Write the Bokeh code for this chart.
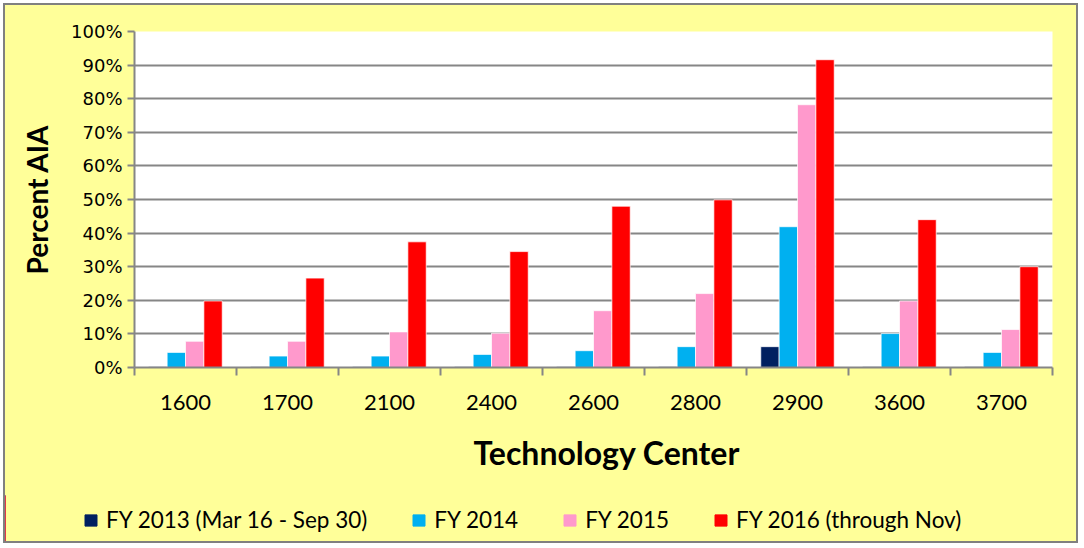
from bokeh.plotting import figure
from bokeh.layouts import column
from bokeh.models import ColumnDataSource, FixedTicker, NumeralTickFormatter, Range1d, Legend, LegendItem, Title
from bokeh.embed import file_html
from bokeh.resources import INLINE

centers = ["1600", "1700", "2100", "2400", "2600", "2800", "2900", "3600", "3700"]
series_names = ["FY 2013 (Mar 16 - Sep 30)", "FY 2014", "FY 2015", "FY 2016 (through Nov)"]
fy2013 = [0.002, 0.002, 0.002, 0.002, 0.002, 0.002, 0.062, 0.002, 0.002]
fy2014 = [0.045, 0.034, 0.034, 0.039, 0.050, 0.062, 0.419, 0.101, 0.045]
fy2015 = [0.078, 0.078, 0.106, 0.102, 0.169, 0.220, 0.782, 0.198, 0.113]
fy2016 = [0.198, 0.266, 0.374, 0.345, 0.480, 0.499, 0.916, 0.440, 0.300]
colors = ["#002060", "#00B0F0", "#FF99CC", "#FF0000"]
y_ticks = [0.0, 0.1, 0.2, 0.3, 0.4, 0.5, 0.6, 0.7, 0.8, 0.9, 1.0]

YELLOW = "#FFFF99"
GREY = "#868686"

p = figure(width=1071, height=490,
           output_backend="svg", toolbar_location=None,
           x_range=Range1d(0, len(centers)), y_range=Range1d(0, 1.0),
           min_border_left=129, min_border_right=24, min_border_top=26, min_border_bottom=128,
           background_fill_color="white", border_fill_color=YELLOW)
p.outline_line_color = None
p.frame_align = False

bar_w = 0.18
offsets = [-0.27, -0.09, 0.09, 0.27]
for vals, off, col in zip([fy2013, fy2014, fy2015, fy2016], offsets, colors):
    src = ColumnDataSource(dict(x=[i + 0.5 + off for i in range(len(centers))], top=vals))
    p.vbar(x="x", top="top", bottom=0, width=bar_w, source=src,
           fill_color=col, line_color="white", line_alpha=0.7, line_width=1)

# y axis
p.yaxis.ticker = FixedTicker(ticks=y_ticks)
p.yaxis.formatter = NumeralTickFormatter(format="0%")
p.yaxis.axis_line_color = GREY
p.yaxis.axis_line_width = 2
p.yaxis.major_tick_line_color = GREY
p.yaxis.major_tick_line_width = 2
p.yaxis.major_tick_out = 7
p.yaxis.major_tick_in = 0
p.yaxis.minor_tick_line_color = None
p.yaxis.major_label_text_font = "DejaVu Sans"
p.yaxis.major_label_text_font_size = "18px"
p.yaxis.major_label_text_color = "black"
p.yaxis.major_label_standoff = 5
p.yaxis.axis_label = "Percent AIA"
p.yaxis.axis_label_text_font = "Lato"
p.yaxis.axis_label_text_font_style = "bold"
p.yaxis.axis_label_text_font_size = "28px"
p.yaxis.axis_label_text_color = "black"
p.yaxis.axis_label_standoff = 14

# x axis
center_ticks = [i + 0.5 for i in range(len(centers))]
p.xaxis.ticker = FixedTicker(ticks=center_ticks, minor_ticks=list(range(len(centers) + 1)))
p.xaxis.major_label_overrides = {c: lab for c, lab in zip(center_ticks, centers)}
p.xaxis.axis_line_color = GREY
p.xaxis.axis_line_width = 2
p.xaxis.major_tick_line_color = None
p.xaxis.minor_tick_line_color = GREY
p.xaxis.minor_tick_line_width = 2
p.xaxis.minor_tick_out = 8
p.xaxis.minor_tick_in = 0
p.xaxis.major_label_text_font = "Lato"
p.xaxis.major_label_text_font_size = "22px"
p.xaxis.major_label_text_color = "black"
p.xaxis.major_label_standoff = 19

p.xgrid.grid_line_color = None
p.ygrid.ticker = FixedTicker(ticks=y_ticks)
p.ygrid.grid_line_color = GREY
p.ygrid.grid_line_width = 2

xtitle = Title(text="Technology Center", align="left", offset=339, standoff=36,
               text_font="Lato", text_font_style="bold", text_font_size="32px", text_color="black")
p.add_layout(xtitle, "below")

# legend strip
p2 = figure(width=1071, height=46, output_backend="svg", toolbar_location=None,
            x_range=Range1d(0, 1), y_range=Range1d(0, 1),
            x_axis_type=None, y_axis_type=None,
            min_border_left=0, min_border_right=0, min_border_top=0, min_border_bottom=0,
            background_fill_color=YELLOW, border_fill_color=YELLOW)
p2.outline_line_color = None
p2.grid.grid_line_color = None
p2.frame_align = False
legend_renderers = [p2.vbar(x=[-5], top=[1], width=0.1, fill_color=c, line_color=c) for c in colors]
legend = Legend(items=[LegendItem(label=n, renderers=[r]) for n, r in zip(series_names, legend_renderers)],
                orientation="horizontal", location=(78, 8),
                glyph_width=15, glyph_height=14, label_standoff=8, spacing=44,
                padding=0, margin=0, border_line_color=None, background_fill_alpha=0,
                label_text_font="Lato", label_text_font_size="22.5px", label_text_color="black")
p2.add_layout(legend, "center")

layout = column(p, p2, spacing=0, margin=(3, 0, 0, 3),
                styles={"border": "2px solid #808080", "background-color": YELLOW})

open("out.html", "w").write(file_html(layout, INLINE))
